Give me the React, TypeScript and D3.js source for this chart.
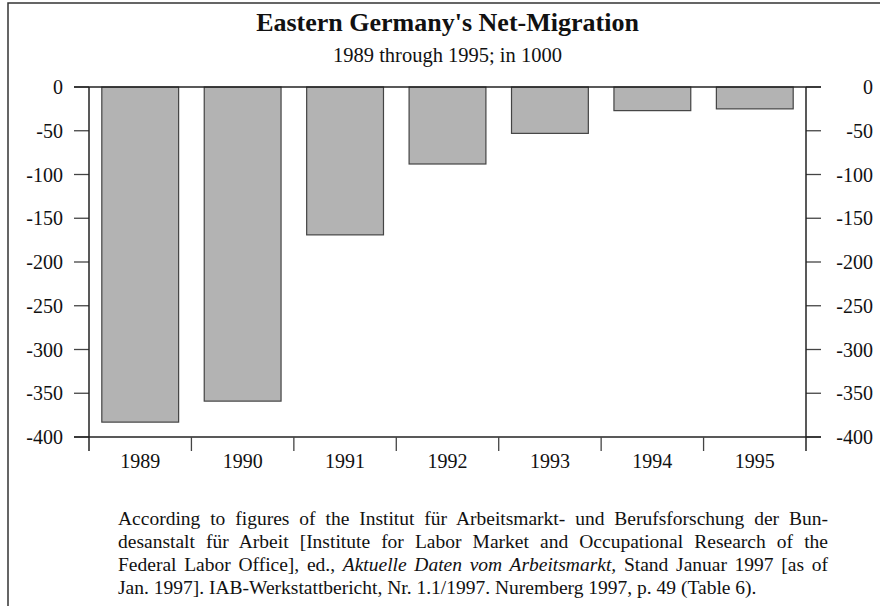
import React, { useLayoutEffect, useRef } from 'react';
import * as d3 from 'd3';

// Net migration, Eastern Germany, in 1000
const years = ['1989', '1990', '1991', '1992', '1993', '1994', '1995'];
const netMigration = [-383, -359, -169, -88, -53, -27, -25];
const yTicks = [0, -50, -100, -150, -200, -250, -300, -350, -400];

const title = "Eastern Germany's Net-Migration";
const subtitle = '1989 through 1995; in 1000';

const noteLine1 = 'According to figures of the Institut für Arbeitsmarkt- und Berufsforschung der Bun-';
const noteLine2 = 'desanstalt für Arbeit [Institute for Labor Market and Occupational Research of the';
const noteLine3a = 'Federal Labor Office], ed., ';
const noteLine3b = 'Aktuelle Daten vom Arbeitsmarkt,';
const noteLine3c = ' Stand Januar 1997 [as of';
const noteLine4 = 'Jan. 1997]. IAB-Werkstattbericht, Nr. 1.1/1997. Nuremberg 1997, p. 49 (Table 6).';

const W = 880;
const H = 606;
const left = 89;
const right = 806;
const top = 87;
const bottom = 437;
const noteX = 118;
const noteWidth = 710;
const font = '"Liberation Serif", "Times New Roman", serif';

const App: React.FC = () => {
  const noteRef = useRef<SVGGElement>(null);

  // justify the first three note lines by widening the word gaps
  useLayoutEffect(() => {
    if (!noteRef.current) return;
    d3.select(noteRef.current).selectAll<SVGTextElement, unknown>('text.justify').each(function () {
      const len = this.getComputedTextLength();
      const spaces = (this.textContent || '').split(' ').length - 1;
      if (spaces > 0 && len < noteWidth) {
        d3.select(this).attr('word-spacing', (noteWidth - len) / spaces);
      }
    });
  }, []);

  const x = d3.scaleBand<string>()
    .domain(years)
    .range([left, right])
    .paddingInner(0.25)
    .paddingOuter(0.125);

  const y = d3.scaleLinear()
    .domain([0, -400])
    .range([top, bottom]);

  const step = x.step();
  const bounds = d3.range(years.length + 1).map(i => left + i * step);

  return (
    <svg width={W} height={H} style={{ position: 'absolute', left: 0, top: 0, background: '#fff' }}
      fontFamily={font}>
      {/* frame */}
      <path d={`M${W + 5},3 H8 V${H + 5}`} fill="none" stroke="#333" strokeWidth={1.5} />

      <text x={447.5} y={31} textAnchor="middle" fontWeight="bold" fontSize={26} fill="#111">{title}</text>
      <text x={447.5} y={62} textAnchor="middle" fontSize={20.5} fill="#111">{subtitle}</text>

      {/* bars */}
      {netMigration.map((v, i) => (
        <rect key={years[i]}
          x={x(years[i])}
          y={y(0)}
          width={x.bandwidth()}
          height={y(v) - y(0)}
          fill="#b3b3b3"
          stroke="#444"
          strokeWidth={1.2} />
      ))}

      {/* y ticks, both sides */}
      {yTicks.map(t => (
        <g key={t}>
          <line x1={left - 15} x2={left} y1={y(t)} y2={y(t)} stroke="#444" strokeWidth={1.3} />
          <line x1={right} x2={right + 15} y1={y(t)} y2={y(t)} stroke="#444" strokeWidth={1.3} />
          <text x={63} y={y(t)} dy="0.35em" textAnchor="end" fontSize={20} fill="#111">{t}</text>
          <text x={873} y={y(t)} dy="0.35em" textAnchor="end" fontSize={20} fill="#111">{t}</text>
        </g>
      ))}

      {/* zero line and x axis */}
      <line x1={left - 15} x2={right + 15} y1={y(0)} y2={y(0)} stroke="#222" strokeWidth={1.5} />
      <line x1={left - 15} x2={right + 15} y1={y(-400)} y2={y(-400)} stroke="#222" strokeWidth={1.5} />
      <line x1={left} x2={left} y1={y(0)} y2={bottom + 14} stroke="#222" strokeWidth={1.5} />
      <line x1={right} x2={right} y1={y(0)} y2={bottom + 14} stroke="#222" strokeWidth={1.5} />
      {bounds.slice(1, -1).map((b, i) => (
        <line key={i} x1={b} x2={b} y1={bottom} y2={bottom + 14} stroke="#444" strokeWidth={1.3} />
      ))}
      {years.map(yr => (
        <text key={yr} x={(x(yr) ?? 0) + x.bandwidth() / 2} y={468} textAnchor="middle" fontSize={20} fill="#111">{yr}</text>
      ))}

      {/* source note */}
      <g ref={noteRef} fontSize={19.5} fill="#111">
        <text className="justify" x={noteX} y={525}>{noteLine1}</text>
        <text className="justify" x={noteX} y={548}>{noteLine2}</text>
        <text className="justify" x={noteX} y={571}>
          {noteLine3a}<tspan fontStyle="italic">{noteLine3b}</tspan>{noteLine3c}
        </text>
        <text x={noteX} y={594}>{noteLine4}</text>
      </g>
    </svg>
  );
};

export default App;
